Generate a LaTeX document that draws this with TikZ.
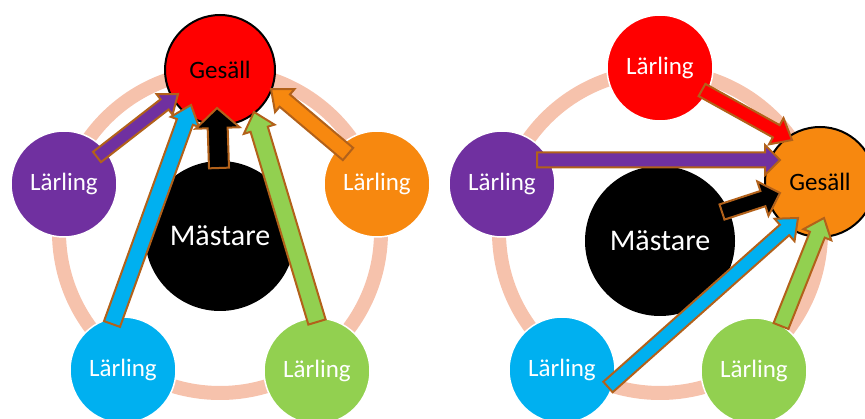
\documentclass[tikz,border=0pt]{standalone}
\usepackage{fontspec}
\setmainfont{Carlito}
\usetikzlibrary{calc}

\definecolor{ringpink}{HTML}{F6C2AC}
\definecolor{lpurple}{HTML}{7030A0}
\definecolor{lblue}{HTML}{00B0F0}
\definecolor{lgreen}{HTML}{92D050}
\definecolor{lorange}{HTML}{F7880F}
\definecolor{lred}{HTML}{FF0000}
\definecolor{rimbrown}{HTML}{B2611A}

% block arrow: fill, tail, tip, half shaft, half head, head length
\newcommand{\blockarrow}[6]{%
  \coordinate (hb) at ($(#3)!#6!(#2)$);
  \draw[arrowline, fill=#1]
    ($(#2)!#4!90:(#3)$) -- ($(hb)!#4!-90:(#2)$) -- ($(hb)!#5!-90:(#2)$) -- (#3)
    -- ($(hb)!#5!90:(#2)$) -- ($(hb)!#4!90:(#2)$) -- ($(#2)!#4!-90:(#3)$) -- cycle;
}

\begin{document}
\begin{tikzpicture}[x=1pt,y=-1pt]

    \tikzset{
      ring/.style={
        draw=ringpink,
        line width=14pt,
      },
      learner/.style={
        circle,
        draw=white,
        line width=1.5pt,
        minimum size=106pt,
        inner sep=0pt,
        text=white,
        font=\fontsize{25}{30}\selectfont,
      },
      journeyman/.style={
        learner,
        draw=black,
        line width=2pt,
        minimum size=110pt,
        text=black,
      },
      master/.style={
        circle,
        fill=black,
        minimum size=150pt,
        inner sep=0pt,
        text=white,
        font=\fontsize{30}{36}\selectfont,
      },
      arrowline/.style={
        draw=rimbrown,
        line width=2pt,
        line join=miter,
      },
    }
    \useasboundingbox (0,0) rectangle (865,419);
    \clip (0,0) rectangle (865,419);

    % left wheel
    \draw[ring] (220,232) circle (161);
    \node[master] (mL) at (220,236) {Mästare};
    \node[learner, fill=lpurple] (pL) at (64,184) {Lärling};
    \node[learner, fill=lblue] (bL) at (123,370) {Lärling};
    \node[learner, fill=lgreen] (gL) at (317,371) {Lärling};
    \node[learner, fill=lorange] (oL) at (377,184) {Lärling};
    \node[journeyman, fill=lred] (jL) at (220,70) {Gesäll};

    \coordinate (pLt) at (97,157);  \coordinate (pLh) at (178,94);
    \coordinate (bLt) at (112,324); \coordinate (bLh) at (191,105);
    \coordinate (mLt) at (219,168); \coordinate (mLh) at (217,108);
    \coordinate (gLt) at (317,322); \coordinate (gLh) at (254,112);
    \coordinate (oLt) at (348,154); \coordinate (oLh) at (271,89);
    \blockarrow{lpurple}{pLt}{pLh}{6.5pt}{13pt}{17pt}
    \blockarrow{lblue}{bLt}{bLh}{8.5pt}{15pt}{18pt}
    \blockarrow{black}{mLt}{mLh}{10pt}{22pt}{20pt}
    \blockarrow{lgreen}{gLt}{gLh}{9pt}{16pt}{18pt}
    \blockarrow{lorange}{oLt}{oLh}{8pt}{15pt}{18pt}

    % right wheel
    \draw[ring] (660,232) circle (161);
    \node[master] (mR) at (660,241) {Mästare};
    \node[learner, fill=lred] (rR) at (660,68) {Lärling};
    \node[learner, fill=lpurple] (pR) at (502,184) {Lärling};
    \node[learner, fill=lblue] (bR) at (562,370) {Lärling};
    \node[learner, fill=lgreen] (gR) at (754,371) {Lärling};
    \node[journeyman, fill=lorange] (jR) at (820,182) {Gesäll};

    \coordinate (rRt) at (702,90);  \coordinate (rRh) at (792,140);
    \coordinate (pRt) at (537,160); \coordinate (pRh) at (780,160);
    \coordinate (mRt) at (722,212); \coordinate (mRh) at (780,193);
    \coordinate (bRt) at (608,387); \coordinate (bRh) at (798,218);
    \coordinate (gRt) at (781,326); \coordinate (gRh) at (824,218);
    \blockarrow{lred}{rRt}{rRh}{7pt}{15pt}{18pt}
    \blockarrow{lpurple}{pRt}{pRh}{7.5pt}{15pt}{15pt}
    \blockarrow{black}{mRt}{mRh}{8pt}{18pt}{18pt}
    \blockarrow{lblue}{bRt}{bRh}{7pt}{15pt}{18pt}
    \blockarrow{lgreen}{gRt}{gRh}{8pt}{15pt}{18pt}

\end{tikzpicture}
\end{document}
